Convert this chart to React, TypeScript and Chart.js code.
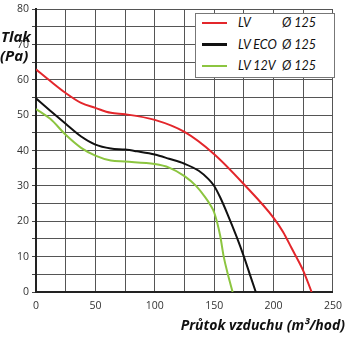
import React, { useEffect, useRef } from "react";
import { Chart, registerables } from "chart.js";

Chart.register(...registerables);

const seriesNames = ["LV", "LV ECO", "LV 12V"];
const seriesDiameter = ["Ø 125", "Ø 125", "Ø 125"];
const seriesColors = ["#e3262b", "#111111", "#8cc540"];

const lvFlow = [0, 12, 25, 38, 50, 63, 75, 100, 125, 150, 175, 200, 208, 215, 225, 232];
const lvPressure = [63, 59.7, 56.3, 53.5, 52.1, 50.7, 50.3, 48.7, 45.3, 39, 30.5, 21, 17, 12.5, 6, 0];

const ecoFlow = [0, 12, 25, 38, 50, 63, 75, 85, 100, 112, 125, 137, 145, 150, 155, 161, 169, 175, 180, 185];
const ecoPressure = [54.8, 51.3, 47.6, 44, 41.7, 40.6, 40.3, 39.8, 38.9, 37.7, 36.3, 34.3, 32, 30, 26.8, 22.2, 15.5, 10, 5, 0];

const v12Flow = [0, 12, 25, 38, 50, 63, 75, 100, 112, 125, 134.5, 142.5, 147, 150, 155, 158, 161.5, 165.5];
const v12Pressure = [51.8, 49, 44.5, 40.8, 38.6, 37.2, 36.9, 36.2, 35.2, 32.8, 30.1, 26.8, 24.5, 22.5, 16, 10, 5, 0];

const xTitle = "Průtok vzduchu (m³/hod)";
const yTitleLines = ["Tlak", "(Pa)"];

const FONT = "'Open Sans', 'DejaVu Sans', sans-serif";
const LEGEND_FONT = "Lato, 'Open Sans', sans-serif";

function pts(xs: number[], ys: number[]) {
  return xs.map((x, i) => ({ x, y: ys[i] }));
}

const abs = (left: number, top: number, extra: React.CSSProperties = {}): React.CSSProperties => ({
  position: "absolute",
  left,
  top,
  whiteSpace: "nowrap",
  ...extra,
});

export default function App() {
  const ref = useRef<HTMLCanvasElement | null>(null);
  useEffect(() => {
    document.body.style.margin = "0";
    const chart = new Chart(ref.current!, {
      type: "line",
      data: {
        datasets: [
          { label: seriesNames[0], data: pts(lvFlow, lvPressure), borderColor: seriesColors[0] },
          { label: seriesNames[1], data: pts(ecoFlow, ecoPressure), borderColor: seriesColors[1] },
          { label: seriesNames[2], data: pts(v12Flow, v12Pressure), borderColor: seriesColors[2] },
        ].map((d) => ({
          ...d,
          borderWidth: 2,
          pointRadius: 0,
          fill: false,
          cubicInterpolationMode: "monotone" as const,
        })),
      },
      options: {
        animation: false,
        responsive: false,
        layout: { padding: { top: 8, right: 9, left: 0, bottom: 0 } },
        plugins: { legend: { display: false }, tooltip: { enabled: false } },
        scales: {
          x: {
            type: "linear",
            min: 0,
            max: 250,
            afterFit: (s: any) => { s.height = 58; },
            ticks: {
              stepSize: 25,
              autoSkip: false,
              maxRotation: 0,
              padding: 8,
              color: "#333",
              font: { family: FONT, size: 10.5 },
              callback: (v: any) => (Number(v) % 50 === 0 ? String(v) : ""),
            },
            grid: { display: true, drawOnChartArea: true, color: "#555555", lineWidth: 1, drawTicks: false },
            border: { display: true, color: "#222222", width: 2 },
          },
          y: {
            type: "linear",
            min: 0,
            max: 80,
            afterFit: (s: any) => { s.width = 36; },
            ticks: {
              stepSize: 5,
              autoSkip: false,
              padding: 3,
              color: "#333",
              font: { family: FONT, size: 10.5 },
              callback: (v: any) => (Number(v) % 10 === 0 ? String(v) : ""),
            },
            grid: { display: true, drawOnChartArea: true, color: "#555555", lineWidth: 1, tickLength: 4, tickColor: "#444444" },
            border: { display: true, color: "#222222", width: 2 },
          },
        },
      },
    });
    return () => chart.destroy();
  }, []);

  const titleFont: React.CSSProperties = { fontFamily: FONT, fontWeight: 700, fontStyle: "italic", color: "#111", lineHeight: "18px" };
  const legendFont: React.CSSProperties = { fontFamily: LEGEND_FONT, fontStyle: "italic", fontSize: 12.5, color: "#111", lineHeight: "16px" };

  return (
    <div style={{ position: "relative", width: 350, height: 350 }}>
      <canvas ref={ref} width={350} height={350} style={{ position: "absolute", left: 0, top: 0 }} />
      <div style={abs(1, 27, { ...titleFont, fontSize: 15 })}>{yTitleLines[0]}</div>
      <div style={abs(0, 46, { ...titleFont, fontSize: 15 })}>{yTitleLines[1]}</div>
      <div style={{ ...titleFont, fontSize: 14, position: "absolute", right: 5, top: 316, whiteSpace: "nowrap" }}>{xTitle}</div>
      <div style={abs(195, 13, { width: 138, height: 63, background: "#fff", border: "1px solid #777" })} />
      {seriesNames.map((name, i) => {
        const cy = 23 + i * 21.5;
        return (
          <React.Fragment key={name}>
            <div style={abs(202, cy - 1.25, { width: 25, height: 2.5, background: seriesColors[i] })} />
            <div style={abs(238, cy - 8, legendFont)}>{name}</div>
            <div style={abs(282, cy - 8, legendFont)}>{seriesDiameter[i]}</div>
          </React.Fragment>
        );
      })}
    </div>
  );
}
